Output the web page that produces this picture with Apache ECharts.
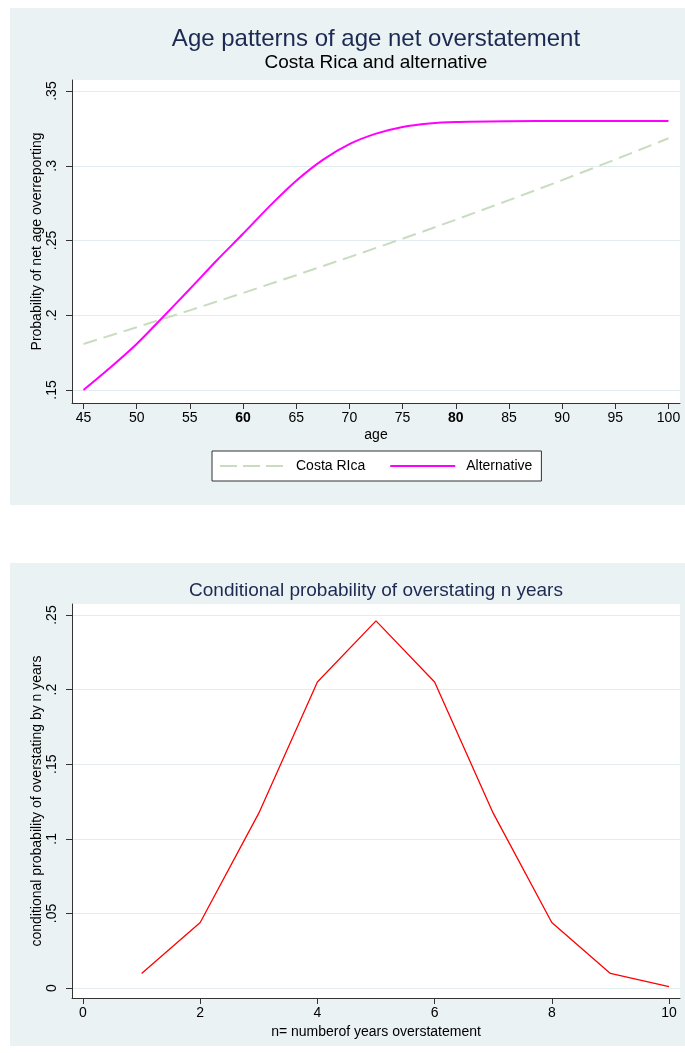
<!DOCTYPE html>
<html>
<head>
<meta charset="utf-8">
<script src="https://cdn.jsdelivr.net/npm/echarts@6/dist/echarts.min.js"></script>
<style>
  html, body { margin: 0; padding: 0; background: #ffffff; }
  #chart { width: 685px; height: 1053px; }
</style>
</head>
<body>
<div id="chart"></div>
<script>
// ---- Upper panel: probability of net age overreporting by age ----
const agesCostaRica = [45, 50, 55, 60, 65, 70, 75, 80, 85, 90, 95, 100];
const costaRica = [0.1808, 0.1920, 0.2033, 0.2149, 0.2268, 0.2389, 0.2512, 0.2639, 0.2770, 0.2904, 0.3042, 0.3184];

const agesAlternative = [45, 47.5, 50, 52.5, 55, 57.5, 60, 62.5, 65, 67.5, 70, 72.5, 75, 77.5, 80, 85, 90, 95, 100];
const alternative = [0.150, 0.1649, 0.1808, 0.1990, 0.2176, 0.2365, 0.2545, 0.2730, 0.2900, 0.3040, 0.3145, 0.3215, 0.3260, 0.3283, 0.3293, 0.3298, 0.3300, 0.3300, 0.3300];

const ageTicks = [45, 50, 55, 60, 65, 70, 75, 80, 85, 90, 95, 100];
const boldAgeTicks = [60, 80];
const probTicks = [0.15, 0.2, 0.25, 0.3, 0.35];

// ---- Lower panel: conditional probability of overstating n years ----
const yearsOver = [1, 2, 3, 4, 5, 6, 7, 8, 9, 10];
const condProb = [0.0098, 0.0439, 0.1172, 0.2051, 0.2461, 0.2051, 0.1172, 0.0439, 0.0098, 0.0010];

const nTicks = [0, 2, 4, 6, 8, 10];
const condTicks = [0, 0.05, 0.1, 0.15, 0.2, 0.25];

const pairs = (xs, ys) => xs.map((x, i) => [x, ys[i]]);
const decimalLabel = v => (v === 0 ? '0' : String(+v.toFixed(2)).replace(/^0/, ''));

const FONT = '"Liberation Sans", Arial, Helvetica, sans-serif';
const PANEL_BG = '#eaf2f3';
const GRID_LINE = '#e2ebee';
const AXIS_COLOR = '#333333';
const NAVY = '#1c2a52';
const LABEL_SIZE = 14;
const CR_COLOR = '#c8dcc0';

function xAxisCommon(ticks) {
  return {
    type: 'value',
    axisLine: { show: true, onZero: false, lineStyle: { color: AXIS_COLOR, width: 1 } },
    axisTick: { show: true, length: 6, customValues: ticks, lineStyle: { color: AXIS_COLOR } },
    axisLabel: { customValues: ticks, margin: 8, color: '#000', fontSize: LABEL_SIZE, fontFamily: FONT },
    splitLine: { show: false },
    nameLocation: 'middle',
    nameMoveOverlap: false,
    nameTextStyle: { color: '#000', fontSize: LABEL_SIZE, fontFamily: FONT }
  };
}

function yAxisCommon(ticks) {
  return {
    type: 'value',
    axisLine: { show: true, onZero: false, lineStyle: { color: AXIS_COLOR, width: 1 } },
    axisTick: { show: true, length: 6, customValues: ticks, lineStyle: { color: AXIS_COLOR } },
    axisLabel: { customValues: ticks, rotate: 90, margin: 13, color: '#000', fontSize: LABEL_SIZE, fontFamily: FONT, formatter: decimalLabel },
    splitLine: { show: true, lineStyle: { color: GRID_LINE, width: 1 } },
    nameLocation: 'middle',
    nameRotate: 90,
    nameMoveOverlap: false,
    nameTextStyle: { color: '#000', fontSize: LABEL_SIZE, fontFamily: FONT }
  };
}

const chart = echarts.init(document.getElementById('chart'), null, { renderer: 'canvas' });

const topX = xAxisCommon(ageTicks);
Object.assign(topX, {
  gridIndex: 0, min: 43.92, max: 101.08, name: 'age', nameGap: 25
});
topX.axisLabel.formatter = v => (boldAgeTicks.includes(v) ? '{b|' + v + '}' : String(v));
topX.axisLabel.rich = { b: { fontWeight: 'bold', fontSize: LABEL_SIZE, color: '#000', fontFamily: FONT } };

const topY = yAxisCommon(probTicks);
Object.assign(topY, {
  gridIndex: 0, min: 0.1413, max: 0.3574, name: 'Probability of net age overreporting', nameGap: 28
});

const botX = xAxisCommon(nTicks);
Object.assign(botX, {
  gridIndex: 1, min: -0.188, max: 10.188, name: 'n= numberof years overstatement', nameGap: 27
});

const botY = yAxisCommon(condTicks);
Object.assign(botY, {
  gridIndex: 1, min: -0.0067, max: 0.2574, name: 'conditional probability of overstating by n years', nameGap: 28
});

const option = {
  backgroundColor: '#ffffff',
  animation: false,
  textStyle: { fontFamily: FONT },
  graphic: [
    { type: 'rect', z: -100, shape: { x: 10, y: 8, width: 675, height: 497 }, style: { fill: PANEL_BG } },
    { type: 'rect', z: -100, shape: { x: 10, y: 563, width: 675, height: 483 }, style: { fill: PANEL_BG } }
  ],
  title: [
    { text: 'Age patterns of age net overstatement', left: 376, top: 27, textAlign: 'center', padding: 0,
      textStyle: { color: NAVY, fontSize: 24, fontWeight: 'normal', fontFamily: FONT } },
    { text: 'Costa Rica and alternative', left: 376, top: 53, textAlign: 'center', padding: 0,
      textStyle: { color: '#000', fontSize: 19, fontWeight: 'normal', fontFamily: FONT } },
    { text: 'Conditional probability of overstating n years', left: 376, top: 581, textAlign: 'center', padding: 0,
      textStyle: { color: NAVY, fontSize: 19, fontWeight: 'normal', fontFamily: FONT } }
  ],
  legend: {
    data: [
      { name: 'Costa RIca', lineStyle: { type: [17, 6] } },
      { name: 'Alternative' }
    ],
    left: 212, top: 451,
    orient: 'horizontal',
    padding: [8, 9, 8, 7],
    itemWidth: 65, itemHeight: 14, itemGap: 24,
    backgroundColor: '#ffffff',
    borderColor: AXIS_COLOR, borderWidth: 1, borderRadius: 0,
    itemStyle: { opacity: 0 },
    textStyle: { color: '#000', fontSize: 14, fontFamily: FONT, padding: [0, 0, 0, 6] }
  },
  grid: [
    { left: 72, top: 80, width: 608, height: 323, show: true, backgroundColor: '#ffffff', borderWidth: 0 },
    { left: 72, top: 604, width: 608, height: 394, show: true, backgroundColor: '#ffffff', borderWidth: 0 }
  ],
  xAxis: [topX, botX],
  yAxis: [topY, botY],
  series: [
    {
      name: 'Costa RIca', type: 'line', xAxisIndex: 0, yAxisIndex: 0,
      data: pairs(agesCostaRica, costaRica),
      showSymbol: false, symbol: 'none',
      lineStyle: { color: CR_COLOR, width: 2, type: [14, 7] },
      itemStyle: { color: CR_COLOR }
    },
    {
      name: 'Alternative', type: 'line', xAxisIndex: 0, yAxisIndex: 0,
      data: pairs(agesAlternative, alternative),
      showSymbol: false, symbol: 'none', smooth: 0.25,
      lineStyle: { color: '#ff00ff', width: 2 },
      itemStyle: { color: '#ff00ff' }
    },
    {
      name: 'conditional', type: 'line', xAxisIndex: 1, yAxisIndex: 1,
      data: pairs(yearsOver, condProb),
      showSymbol: false, symbol: 'none',
      lineStyle: { color: '#ff0000', width: 1.3 },
      itemStyle: { color: '#ff0000' }
    }
  ]
};

chart.setOption(option);
</script>
</body>
</html>
